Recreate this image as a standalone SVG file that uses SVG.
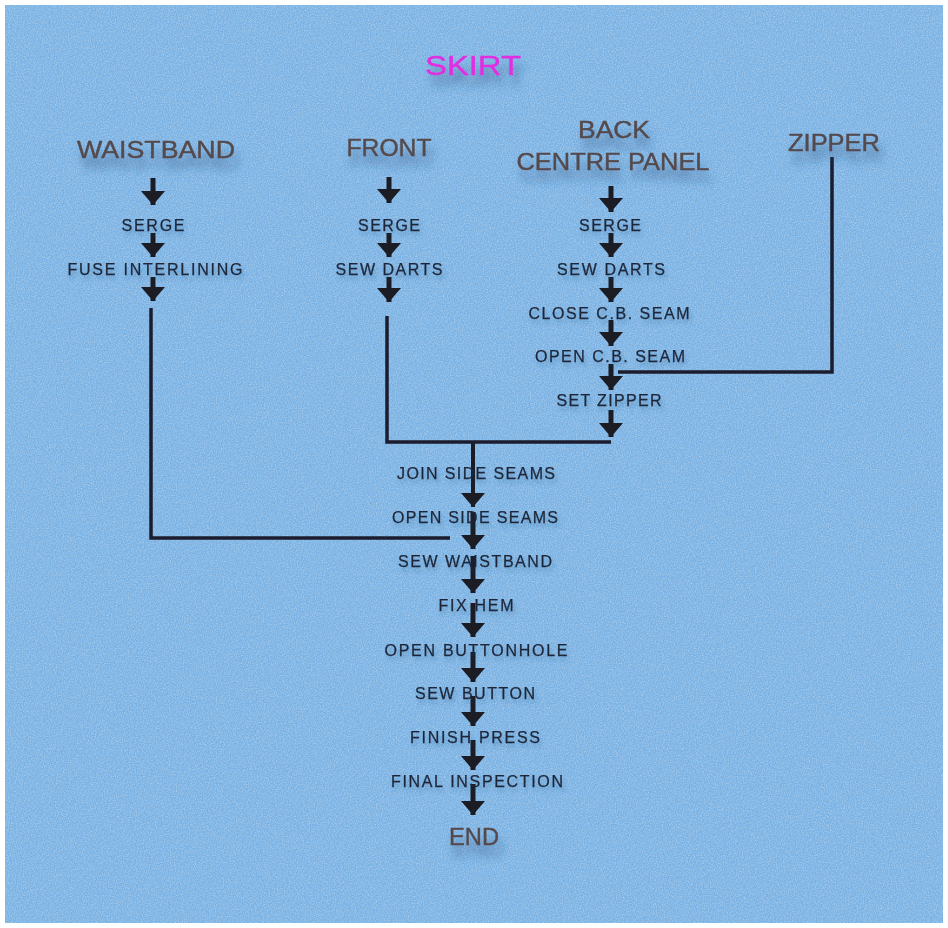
<svg xmlns="http://www.w3.org/2000/svg" width="948" height="928" viewBox="0 0 948 928">
<defs>
<filter id="noise" x="0" y="0" width="100%" height="100%">
<feTurbulence type="fractalNoise" baseFrequency="0.85" numOctaves="2" seed="3" result="t"/>
<feColorMatrix in="t" type="matrix" values="0 0 0 0 1  0 0 0 0 1  0 0 0 0 1  1.6 0 0 0 -0.55"/>
</filter>
<filter id="shadow" x="-30%" y="-60%" width="160%" height="260%">
<feGaussianBlur in="SourceAlpha" stdDeviation="4" result="b"/>
<feOffset in="b" dx="4" dy="11" result="o"/>
<feFlood flood-color="#234a78" flood-opacity="0.55"/>
<feComposite in2="o" operator="in" result="s"/>
<feMerge><feMergeNode in="s"/><feMergeNode in="SourceGraphic"/></feMerge>
</filter>
<filter id="lshadow" x="-10%" y="-50%" width="120%" height="220%">
<feGaussianBlur in="SourceAlpha" stdDeviation="2" result="b"/>
<feOffset in="b" dx="2" dy="4" result="o"/>
<feFlood flood-color="#234a78" flood-opacity="0.3"/>
<feComposite in2="o" operator="in" result="s"/>
<feMerge><feMergeNode in="s"/><feMergeNode in="SourceGraphic"/></feMerge>
</filter>
<marker id="ah" markerUnits="userSpaceOnUse" markerWidth="16" markerHeight="24" refX="14" refY="12" orient="auto">
<path d="M0,0 L14,12 L0,24 Z" fill="#1b1c24"/>
</marker>
<style>
.hd{font-family:"Liberation Sans",Arial,sans-serif;font-size:23px;fill:#544a4c;stroke:#544a4c;stroke-width:0.4;text-anchor:middle;filter:url(#shadow)}
.lb{font-family:"Liberation Sans",Arial,sans-serif;font-size:16px;fill:#1e2638;stroke:#1e2638;stroke-width:0.25;text-anchor:middle;filter:url(#lshadow)}
.ar{stroke:#1b1c24;stroke-width:5;fill:none;marker-end:url(#ah)}
.ln{stroke:#1b1c2e;stroke-width:3.5;fill:none}
</style>
</defs>
<rect x="0" y="0" width="948" height="928" fill="#ffffff"/>
<rect x="5" y="5" width="938" height="918" fill="#79b1e3"/>
<rect x="5" y="5" width="938" height="918" filter="url(#noise)" opacity="0.4"/>

<g id="connectors">
<line class="ar" x1="153" y1="178" x2="153" y2="205"/>
<line class="ar" x1="153" y1="233" x2="153" y2="257"/>
<line class="ar" x1="153" y1="277" x2="153" y2="301"/>
<line class="ar" x1="389" y1="177" x2="389" y2="203"/>
<line class="ar" x1="389" y1="233" x2="389" y2="257"/>
<line class="ar" x1="389" y1="277" x2="389" y2="302"/>
<line class="ar" x1="611" y1="186" x2="611" y2="212"/>
<line class="ar" x1="611" y1="233" x2="611" y2="257"/>
<line class="ar" x1="611" y1="277" x2="611" y2="302"/>
<line class="ar" x1="611" y1="320" x2="611" y2="346"/>
<line class="ar" x1="611" y1="364" x2="611" y2="390"/>
<line class="ar" x1="611" y1="410" x2="611" y2="437"/>
<polyline class="ln" points="151,308 151,538 450,538"/>
<polyline class="ln" points="387,316 387,442 611,442"/>
<polyline class="ln" points="832,157 832,372 618,372"/>
<line class="ar" x1="473" y1="442" x2="473" y2="507" style="stroke-width:4"/>
<line class="ar" x1="473" y1="512" x2="473" y2="549"/>
<line class="ar" x1="473" y1="556" x2="473" y2="593"/>
<line class="ar" x1="473" y1="603" x2="473" y2="637"/>
<line class="ar" x1="473" y1="652" x2="473" y2="682"/>
<line class="ar" x1="473" y1="696" x2="473" y2="726"/>
<line class="ar" x1="473" y1="740" x2="473" y2="770"/>
<line class="ar" x1="473" y1="784" x2="473" y2="815"/>
</g>

<g id="title"><text x="473" y="75" font-family="Liberation Sans,Arial,sans-serif" font-size="28" fill="#e02ee0" stroke="#e02ee0" stroke-width="0.4" text-anchor="middle" textLength="96" lengthAdjust="spacingAndGlyphs" filter="url(#shadow)">SKIRT</text></g>

<g id="waistband"><text class="hd" x="156" y="158" textLength="158" lengthAdjust="spacingAndGlyphs">WAISTBAND</text></g>
<g id="front"><text class="hd" x="389" y="156" textLength="85" lengthAdjust="spacingAndGlyphs">FRONT</text></g>
<g id="back"><text class="hd" x="614" y="138" textLength="72" lengthAdjust="spacingAndGlyphs">BACK</text><text class="hd" x="613" y="170" textLength="193" lengthAdjust="spacingAndGlyphs">CENTRE PANEL</text></g>
<g id="zipper"><text class="hd" x="834" y="151" textLength="92" lengthAdjust="spacingAndGlyphs">ZIPPER</text></g>

<g id="w-serge"><text class="lb" x="153" y="231" textLength="63" lengthAdjust="spacing">SERGE</text></g>
<g id="w-fuse"><text class="lb" x="155" y="275" textLength="175" lengthAdjust="spacing">FUSE INTERLINING</text></g>
<g id="f-serge"><text class="lb" x="389" y="231" textLength="62" lengthAdjust="spacing">SERGE</text></g>
<g id="f-darts"><text class="lb" x="389" y="275" textLength="107" lengthAdjust="spacing">SEW DARTS</text></g>
<g id="b-serge"><text class="lb" x="610" y="231" textLength="62" lengthAdjust="spacing">SERGE</text></g>
<g id="b-darts"><text class="lb" x="611" y="275" textLength="108" lengthAdjust="spacing">SEW DARTS</text></g>
<g id="b-close"><text class="lb" x="609" y="319" textLength="161" lengthAdjust="spacing">CLOSE C.B. SEAM</text></g>
<g id="b-open"><text class="lb" x="610" y="362" textLength="150" lengthAdjust="spacing">OPEN C.B. SEAM</text></g>
<g id="b-zipper"><text class="lb" x="609" y="406" textLength="105" lengthAdjust="spacing">SET ZIPPER</text></g>
<g id="join"><text class="lb" x="476" y="479" textLength="158" lengthAdjust="spacing">JOIN SIDE SEAMS</text></g>
<g id="open-side"><text class="lb" x="475" y="523" textLength="166" lengthAdjust="spacing">OPEN SIDE SEAMS</text></g>
<g id="sew-waistband"><text class="lb" x="475" y="567" textLength="154" lengthAdjust="spacing">SEW WAISTBAND</text></g>
<g id="fix-hem"><text class="lb" x="476" y="611" textLength="75" lengthAdjust="spacing">FIX HEM</text></g>
<g id="buttonhole"><text class="lb" x="476" y="656" textLength="183" lengthAdjust="spacing">OPEN BUTTONHOLE</text></g>
<g id="sew-button"><text class="lb" x="475" y="699" textLength="120" lengthAdjust="spacing">SEW BUTTON</text></g>
<g id="finish-press"><text class="lb" x="475" y="743" textLength="130" lengthAdjust="spacing">FINISH PRESS</text></g>
<g id="inspection"><text class="lb" x="477" y="787" textLength="172" lengthAdjust="spacing">FINAL INSPECTION</text></g>
<g id="end"><text class="hd" x="474" y="845" textLength="50" lengthAdjust="spacingAndGlyphs">END</text></g>
</svg>
